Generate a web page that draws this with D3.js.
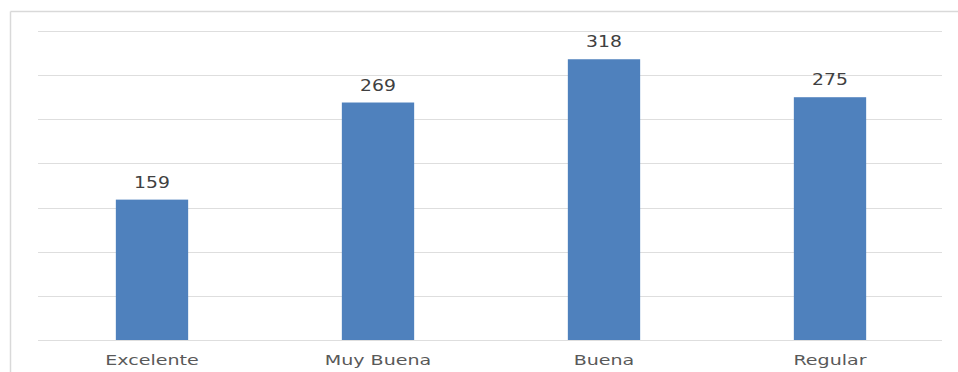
<!DOCTYPE html>
<html><head><meta charset="utf-8">
<script src="https://cdn.jsdelivr.net/npm/d3@7/dist/d3.min.js"></script>
<style>html,body{margin:0;padding:0;background:#fff;}svg{display:block;}</style>
</head><body>
<svg id="c" width="958" height="372"></svg>
<script>
const categories = ["Excelente", "Muy Buena", "Buena", "Regular"];
const values = [159, 269, 318, 275];
const yTicks = [0, 50, 100, 150, 200, 250, 300, 350];

const svg = d3.select("#c");
const W = 958, H = 372;
const plot = {left: 38, right: 942, top: 31, bottom: 340};

// outer frame (partially visible)
svg.append("line").attr("x1", 10.5).attr("x2", W).attr("y1", 11.5).attr("y2", 11.5)
  .attr("stroke", "#d9d9d9").attr("stroke-width", 1.5);
svg.append("line").attr("x1", 10.5).attr("x2", 10.5).attr("y1", 11.5).attr("y2", H)
  .attr("stroke", "#d9d9d9").attr("stroke-width", 1.5);

const x = d3.scaleBand().domain(categories).range([plot.left + 1, plot.right + 1]).padding(0);
const y = d3.scaleLinear().domain([0, 350]).range([plot.bottom, plot.top]);

svg.append("g").selectAll("line").data(yTicks).join("line")
  .attr("x1", plot.left).attr("x2", plot.right)
  .attr("y1", d => Math.round(y(d)) + 0.5).attr("y2", d => Math.round(y(d)) + 0.5)
  .attr("stroke", "#dedede").attr("stroke-width", 1);

const bw = x.bandwidth() * 0.32;
svg.append("g").selectAll("rect").data(values).join("rect")
  .attr("x", (d, i) => x(categories[i]) + x.bandwidth() / 2 - bw / 2)
  .attr("width", bw)
  .attr("y", d => y(d))
  .attr("height", d => y(0) - y(d))
  .attr("fill", "#4f81bd");

const sx = 1.25;
svg.append("g").selectAll("text").data(values).join("text")
  .attr("transform", (d, i) => `translate(${x(categories[i]) + x.bandwidth() / 2},${y(d) - 12}) scale(${sx},1)`)
  .attr("text-anchor", "middle")
  .attr("font-family", "DejaVu Sans, sans-serif")
  .attr("font-size", 15)
  .attr("fill", "#404040")
  .text(d => d);

svg.append("g").selectAll("text").data(categories).join("text")
  .attr("transform", d => `translate(${x(d) + x.bandwidth() / 2},${365}) scale(1.36,1)`)
  .attr("text-anchor", "middle")
  .attr("font-family", "DejaVu Sans, sans-serif")
  .attr("font-size", 14)
  .attr("fill", "#595959")
  .text(d => d);
</script>
</body></html>
